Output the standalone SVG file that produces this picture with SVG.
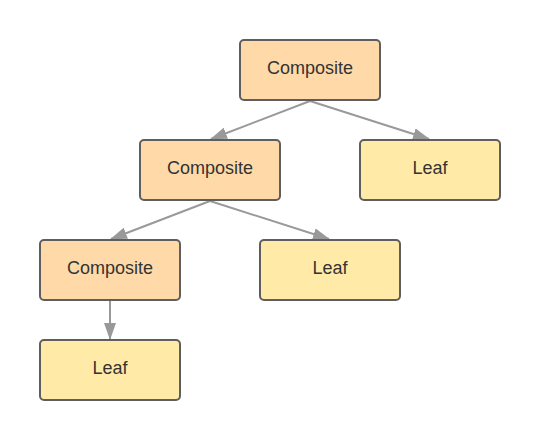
<svg xmlns="http://www.w3.org/2000/svg" width="540" height="440" viewBox="0 0 540 440">
<style>
.n rect{stroke:#5e5e5e;stroke-width:2}
.c rect{fill:#ffdaa8}
.l rect{fill:#ffeaa8}
.n text{font-family:"Liberation Sans",Arial,sans-serif;font-size:18px;fill:#333;text-anchor:middle}
.e line{stroke:#999;stroke-width:2;marker-end:url(#ah)}
</style>
<defs>
<marker id="ah" viewBox="0 0 17 12" refX="16" refY="6" markerWidth="17" markerHeight="12" markerUnits="userSpaceOnUse" orient="auto">
<path d="M0,0 L17,6 L0,12 Z" fill="#999"/>
</marker>
</defs>
<rect width="540" height="440" fill="#fff"/>
<g id="edges" class="e">
<line x1="310" y1="101" x2="211" y2="139"/>
<line x1="310" y1="101" x2="429" y2="139"/>
<line x1="210" y1="201" x2="111" y2="239"/>
<line x1="210" y1="201" x2="329" y2="239"/>
<line x1="110" y1="301" x2="110" y2="339"/>
</g>
<g id="n1" class="n c"><rect x="240" y="40" width="140" height="60" rx="4"/><text x="310" y="74">Composite</text></g>
<g id="n2" class="n c"><rect x="140" y="140" width="140" height="60" rx="4"/><text x="210" y="174">Composite</text></g>
<g id="n3" class="n l"><rect x="360" y="140" width="140" height="60" rx="4"/><text x="430" y="174">Leaf</text></g>
<g id="n4" class="n c"><rect x="40" y="240" width="140" height="60" rx="4"/><text x="110" y="274">Composite</text></g>
<g id="n5" class="n l"><rect x="260" y="240" width="140" height="60" rx="4"/><text x="330" y="274">Leaf</text></g>
<g id="n6" class="n l"><rect x="40" y="340" width="140" height="60" rx="4"/><text x="110" y="374">Leaf</text></g>
</svg>
